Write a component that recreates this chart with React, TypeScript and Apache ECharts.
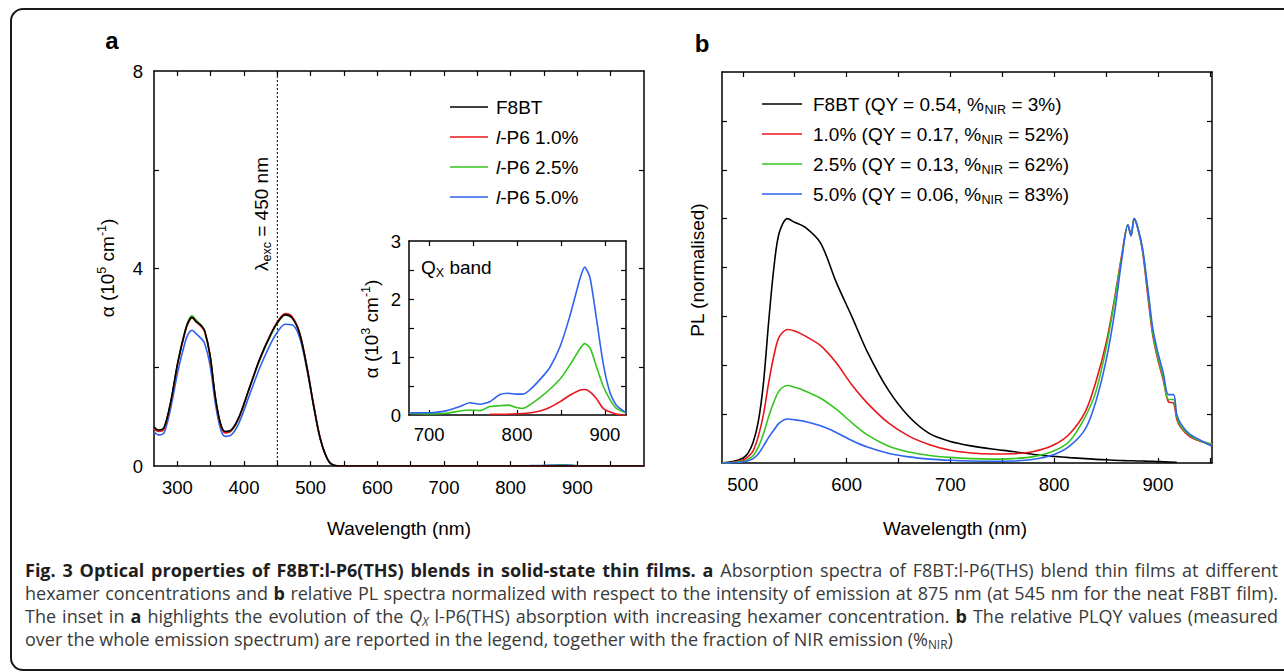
import React, { useEffect, useRef } from 'react';
import * as echarts from 'echarts';

// ---------- Panel a : absorption (alpha, 10^5 cm^-1) ----------
const absWl = [265, 272, 280, 290, 301, 312, 317, 322, 328, 336, 341, 349, 357, 365, 372, 380, 392, 408, 424, 440, 451, 462, 472, 483, 494, 505, 515, 526, 536, 545, 600, 650];
const absF8BT = [0.79, 0.73, 0.78, 1.30, 2.12, 2.75, 2.93, 3.01, 2.93, 2.84, 2.74, 2.25, 1.40, 0.85, 0.70, 0.72, 0.98, 1.58, 2.18, 2.66, 2.92, 3.06, 3.00, 2.70, 2.02, 1.18, 0.52, 0.12, 0.01, 0, 0, 0];
const absP6_10 = [0.76, 0.70, 0.75, 1.28, 2.10, 2.73, 2.92, 3.00, 2.92, 2.82, 2.72, 2.24, 1.38, 0.83, 0.67, 0.70, 0.96, 1.57, 2.18, 2.67, 2.94, 3.09, 3.03, 2.72, 2.04, 1.20, 0.53, 0.12, 0.01, 0, 0, 0];
const absP6_25 = [0.77, 0.71, 0.76, 1.29, 2.12, 2.76, 2.96, 3.04, 2.96, 2.85, 2.74, 2.24, 1.38, 0.83, 0.68, 0.70, 0.96, 1.56, 2.16, 2.64, 2.91, 3.06, 3.01, 2.71, 2.03, 1.19, 0.53, 0.12, 0.01, 0, 0, 0];
const absP6_50 = [0.70, 0.63, 0.67, 1.17, 1.93, 2.52, 2.69, 2.75, 2.68, 2.58, 2.48, 2.05, 1.27, 0.74, 0.60, 0.62, 0.86, 1.43, 2.00, 2.48, 2.73, 2.87, 2.86, 2.62, 1.98, 1.17, 0.52, 0.12, 0.01, 0, 0, 0];
const absEnd = 1000;

// ---------- Inset : Qx band (alpha, 10^3 cm^-1) ----------
const qxWl = [677, 701, 720, 735, 746, 758, 769, 780, 790, 799, 807, 815, 826, 837, 849, 860, 872, 877, 883, 890, 898, 906, 913, 924];
const qxP6_10 = [null, null, null, null, null, null, 0.01, 0.012, 0.015, 0.02, 0.025, 0.04, 0.07, 0.13, 0.23, 0.34, 0.43, 0.44, 0.40, 0.29, 0.115, 0.05, 0.015, 0.0];
const qxP6_25 = [0.03, 0.02, 0.03, 0.07, 0.087, 0.075, 0.145, 0.16, 0.17, 0.13, 0.115, 0.18, 0.30, 0.44, 0.62, 0.86, 1.15, 1.23, 1.16, 0.85, 0.50, 0.26, 0.115, 0.04];
const qxP6_50 = [0.04, 0.04, 0.075, 0.145, 0.21, 0.185, 0.23, 0.35, 0.375, 0.36, 0.36, 0.44, 0.61, 0.81, 1.18, 1.70, 2.37, 2.55, 2.37, 1.70, 0.89, 0.375, 0.17, 0.04];

// ---------- Panel b : PL (normalised) ----------
const plWl = [480, 490, 500, 505, 510, 515, 520, 525, 530, 535, 543, 550, 560, 575, 590, 605, 620, 640, 660, 680, 700, 720, 740, 760, 780, 800, 815, 830, 840, 850, 858, 865, 871, 874, 877, 880, 885, 890, 895, 900, 905, 910, 915, 918, 922, 930, 940, 952];
const plF8BT = [0, 0.006, 0.02, 0.04, 0.085, 0.17, 0.33, 0.58, 0.80, 0.94, 1.0, 0.985, 0.965, 0.90, 0.74, 0.60, 0.455, 0.30, 0.19, 0.12, 0.088, 0.07, 0.057, 0.047, 0.035, 0.027, 0.022, 0.018, 0.015, 0.013, 0.011, 0.010, 0.009, 0.009, 0.009, 0.008, 0.008, 0.007, 0.007, 0.006, 0.005, 0.004, 0.003, 0.003, null, null, null, null];
const plP6_10 = [0, 0.003, 0.012, 0.025, 0.05, 0.11, 0.20, 0.33, 0.44, 0.515, 0.546, 0.54, 0.52, 0.48, 0.41, 0.32, 0.245, 0.165, 0.11, 0.075, 0.052, 0.041, 0.037, 0.038, 0.047, 0.075, 0.12, 0.21, 0.33, 0.49, 0.67, 0.85, 0.975, 0.93, 1.0, 0.97, 0.87, 0.69, 0.52, 0.42, 0.34, 0.25, 0.245, 0.18, 0.145, 0.11, 0.09, 0.076];
const plP6_25 = [0, 0.002, 0.007, 0.015, 0.03, 0.065, 0.12, 0.19, 0.25, 0.295, 0.317, 0.31, 0.295, 0.265, 0.22, 0.165, 0.115, 0.07, 0.045, 0.031, 0.023, 0.018, 0.016, 0.018, 0.026, 0.05, 0.09, 0.19, 0.29, 0.47, 0.66, 0.84, 0.975, 0.93, 1.0, 0.97, 0.875, 0.71, 0.53, 0.43, 0.35, 0.26, 0.26, 0.19, 0.15, 0.115, 0.092, 0.078];
const plP6_50 = [0, 0.001, 0.004, 0.009, 0.018, 0.038, 0.07, 0.105, 0.135, 0.163, 0.18, 0.177, 0.17, 0.152, 0.125, 0.092, 0.065, 0.04, 0.025, 0.016, 0.011, 0.008, 0.007, 0.008, 0.015, 0.035, 0.07, 0.14, 0.25, 0.42, 0.61, 0.83, 0.975, 0.93, 1.0, 0.97, 0.88, 0.72, 0.55, 0.45, 0.37, 0.28, 0.28, 0.20, 0.16, 0.12, 0.095, 0.068];

// ---------- ticks / labels ----------
const aXTicks = [300, 350, 400, 450, 500, 550, 600, 650, 700, 750, 800, 850, 900, 950];
const aXLabels = [300, 400, 500, 600, 700, 800, 900];
const aYTicks = [2, 4, 6];
const aYLabels = [0, 4, 8];
const inXTicks = [700, 750, 800, 850, 900];
const inXLabels = [700, 800, 900];
const inYTicks = [0.5, 1, 1.5, 2, 2.5];
const inYLabels = [0, 1, 2, 3];
const bXTicks = [500, 550, 600, 650, 700, 750, 800, 850, 900, 950];
const bXLabels = [500, 600, 700, 800, 900];
const bYTicks = [0.2, 0.4, 0.6, 0.8, 1.0, 1.2, 1.4];
const excWl = 450;

const seriesNames = ['F8BT', 'l-P6 1.0%', 'l-P6 2.5%', 'l-P6 5.0%'];
const legendB = [
  ['F8BT (QY = 0.54, %', ' = 3%)'],
  ['1.0% (QY = 0.17, %', ' = 52%)'],
  ['2.5% (QY = 0.13, %', ' = 62%)'],
  ['5.0% (QY = 0.06, %', ' = 83%)'],
];

type Piece = [string, string];
const captionLines: Piece[][] = [
  [['b', 'Fig. 3 Optical properties of F8BT:l-P6(THS) blends in solid-state thin films. a'], ['n', ' Absorption spectra of F8BT:l-P6(THS) blend thin films at different']],
  [['n', 'hexamer concentrations and '], ['b', 'b'], ['n', ' relative PL spectra normalized with respect to the intensity of emission at 875 nm (at 545 nm for the neat F8BT film).']],
  [['n', 'The inset in '], ['b', 'a'], ['n', ' highlights the evolution of the '], ['i', 'Q'], ['is', 'X'], ['n', ' l-P6(THS) absorption with increasing hexamer concentration. '], ['b', 'b'], ['n', ' The relative PLQY values (measured']],
  [['n', 'over the whole emission spectrum) are reported in the legend, together with the fraction of NIR emission (%'], ['s', 'NIR'], ['n', ')']],
];

const COLORS = ['#000000', '#e8161b', '#36c51f', '#2d63f0'];
const LF = 'Liberation Sans';
const CF = 'Open Sans';

const pairs = (xs: number[], ys: (number | null)[], k = 1) =>
  xs.map((x, i) => [x, ys[i] == null ? null : (ys[i] as number) * k]);

const mainA = (uv: number[], qx: (number | null)[] | null) => {
  const out: any[] = pairs(absWl, uv);
  if (qx) qxWl.forEach((x, i) => { if (qx[i] != null) out.push([x, (qx[i] as number) / 100]); });
  out.push([absEnd, 0]);
  return out;
};

const mkAxis = (gridIndex: number, min: number, max: number, ticks: number[], labels: number[] | null, position: string, margin = 11) => ({
  type: 'value', gridIndex, min, max, position,
  axisLine: { show: true, onZero: false, lineStyle: { color: '#000', width: 1.5 } },
  axisTick: { show: true, inside: true, length: 5, customValues: ticks, lineStyle: { color: '#000', width: 1.2 } },
  axisLabel: labels
    ? { show: true, customValues: labels, margin, color: '#000', fontSize: 18.5, fontFamily: LF }
    : { show: false },
  splitLine: { show: false },
});

const supRich = {
  n: { fontFamily: LF, fontSize: 19, fill: '#000', lineHeight: 24 },
  sup: { fontFamily: LF, fontSize: 12.5, fill: '#000', lineHeight: 12, verticalAlign: 'top' },
  sub: { fontFamily: LF, fontSize: 12.5, fill: '#000', lineHeight: 12, verticalAlign: 'bottom' },
  it: { fontFamily: LF, fontSize: 19, fill: '#000', lineHeight: 24, fontStyle: 'italic' },
};

function captionGraphics(): any[] {
  const canvas = document.createElement('canvas');
  const ctx = canvas.getContext('2d') as CanvasRenderingContext2D;
  const fontOf = (s: string, size: number) => {
    const sz = s === 'is' || s === 's' ? size * 0.66 : size;
    const st = s === 'i' || s === 'is' ? 'italic ' : '';
    const wt = s === 'b' ? 'bold ' : '';
    return `${st}${wt}${sz}px "${CF}"`;
  };
  const meas = (s: string, t: string, size: number) => { ctx.font = fontOf(s, size); return ctx.measureText(t).width; };
  const x0 = 25, x1 = 1278;
  const ys = [570, 593, 616, 639];
  const lineWords = captionLines.map(line => {
    const words: Piece[][] = [[]];
    line.forEach(([s, t]) => {
      t.split(' ').forEach((part, i) => {
        if (i > 0) words.push([]);
        if (part !== '') words[words.length - 1].push([s, part]);
      });
    });
    return words.filter(w => w.length > 0);
  });
  const base = 20;
  let ratio = Infinity;
  lineWords.slice(0, 3).forEach(ws => {
    const nat = ws.reduce((a, w) => a + w.reduce((b, [s, t]) => b + meas(s, t, base), 0), 0) + (ws.length - 1) * meas('n', ' ', base);
    ratio = Math.min(ratio, (x1 - x0) / nat);
  });
  const size = Math.min(18, base * ratio * 0.995);
  const rich = {
    n: { fontFamily: CF, fontSize: size, fill: '#3a3a3a', lineHeight: 22 },
    b: { fontFamily: CF, fontSize: size, fontWeight: 'bold', fill: '#1e1e1e', lineHeight: 22 },
    i: { fontFamily: CF, fontSize: size, fontStyle: 'italic', fill: '#3a3a3a', lineHeight: 22 },
    is: { fontFamily: CF, fontSize: size * 0.66, fontStyle: 'italic', fill: '#3a3a3a', lineHeight: 12, verticalAlign: 'bottom' },
    s: { fontFamily: CF, fontSize: size * 0.66, fill: '#3a3a3a', lineHeight: 12, verticalAlign: 'bottom' },
  };
  const out: any[] = [];
  lineWords.forEach((ws, li) => {
    const widths = ws.map(w => w.reduce((a, [s, t]) => a + meas(s, t, size), 0));
    const total = widths.reduce((a, b) => a + b, 0);
    const justify = li < lineWords.length - 1;
    const gap = justify ? (x1 - x0 - total) / (ws.length - 1) : meas('n', ' ', size);
    let x = x0;
    ws.forEach((w, wi) => {
      out.push({
        type: 'text', x, y: ys[li], silent: true,
        style: { text: w.map(([s, t]) => `{${s}|${t}}`).join(''), rich, align: 'left', verticalAlign: 'middle' },
      });
      x += widths[wi] + gap;
    });
  });
  return out;
}

export default function App() {
  const ref = useRef<HTMLDivElement>(null);
  useEffect(() => {
    if (!ref.current) return;
    const chart = echarts.init(ref.current, null, { renderer: 'svg', width: 1284, height: 672 });
    const line = (name: string, xi: number, data: any[], color: string, smooth: number = 0) => ({
      name, type: 'line', xAxisIndex: xi, yAxisIndex: xi, data, showSymbol: false, symbol: 'none',
      smooth,
      lineStyle: { color, width: 1.6 }, itemStyle: { color }, silent: true, clip: true,
    });

    const legA = seriesNames.flatMap((n, i) => {
      const y = 107 + i * 30;
      const txt = n.startsWith('l-') ? `{it|l}{n|${n.slice(1)}}` : `{n|${n}}`;
      return [
        { type: 'line', shape: { x1: 450, y1: y, x2: 488, y2: y }, style: { stroke: COLORS[i], lineWidth: 1.5 } },
        { type: 'text', x: 496, y, style: { text: txt, rich: supRich, align: 'left', verticalAlign: 'middle' } },
      ];
    });
    const legB = legendB.flatMap(([a, b], i) => {
      const y = 104 + i * 30;
      return [
        { type: 'line', shape: { x1: 762, y1: y, x2: 802, y2: y }, style: { stroke: COLORS[i], lineWidth: 1.5 } },
        { type: 'text', x: 813, y, style: { text: `{n|${a}}{sub|NIR}{n|${b}}`, rich: supRich, align: 'left', verticalAlign: 'middle' } },
      ];
    });

    const txt = (x: number, y: number, text: string, rotation = 0, align = 'center') => ({
      type: 'text', x, y, rotation, silent: true,
      style: { text, rich: supRich, align, verticalAlign: 'middle' },
    });

    const option: any = {
      animation: false,
      backgroundColor: '#ffffff',
      grid: [
        { left: 154, top: 71, width: 490, height: 395 },
        { left: 409, top: 241, width: 217, height: 174 },
        { left: 722, top: 72, width: 490, height: 391 },
      ],
      xAxis: [
        mkAxis(0, absWl[0], absEnd, aXTicks, aXLabels, 'bottom', 12),
        mkAxis(0, absWl[0], absEnd, aXTicks, null, 'top'),
        mkAxis(1, qxWl[0], qxWl[qxWl.length - 1], inXTicks, inXLabels, 'bottom', 10),
        mkAxis(1, qxWl[0], qxWl[qxWl.length - 1], inXTicks, null, 'top'),
        mkAxis(2, plWl[0], plWl[plWl.length - 1], bXTicks, bXLabels, 'bottom', 12),
        mkAxis(2, plWl[0], plWl[plWl.length - 1], bXTicks, null, 'top'),
      ],
      yAxis: [
        mkAxis(0, 0, 8, aYTicks, aYLabels, 'left', 11),
        mkAxis(0, 0, 8, aYTicks, null, 'right'),
        mkAxis(1, 0, 3, inYTicks, inYLabels, 'left', 8),
        mkAxis(1, 0, 3, inYTicks, null, 'right'),
        mkAxis(2, 0, 1.6, bYTicks, null, 'left'),
        mkAxis(2, 0, 1.6, bYTicks, null, 'right'),
      ],
      series: [
        {
          name: 'exc', type: 'line', xAxisIndex: 0, yAxisIndex: 0, data: [[excWl, 0], [excWl, 8]],
          showSymbol: false, symbol: 'none', lineStyle: { color: '#000', width: 1, type: [2, 2] }, silent: true,
        },
        line(seriesNames[3], 0, mainA(absP6_50, qxP6_50), COLORS[3], 0.35),
        line(seriesNames[2], 0, mainA(absP6_25, qxP6_25), COLORS[2], 0.35),
        line(seriesNames[1], 0, mainA(absP6_10, qxP6_10), COLORS[1], 0.35),
        line(seriesNames[0], 0, mainA(absF8BT, null), COLORS[0], 0.35),
        line('qx1', 2, pairs(qxWl, qxP6_10), COLORS[1], 0.2),
        line('qx2', 2, pairs(qxWl, qxP6_25), COLORS[2], 0.2),
        line('qx5', 2, pairs(qxWl, qxP6_50), COLORS[3], 0.2),
        line('pl0', 4, pairs(plWl, plF8BT), COLORS[0], 0.3),
        line('pl1', 4, pairs(plWl, plP6_10), COLORS[1], 0.3),
        line('pl2', 4, pairs(plWl, plP6_25), COLORS[2], 0.3),
        line('pl5', 4, pairs(plWl, plP6_50), COLORS[3], 0.3),
      ],
      graphic: [
        { type: 'rect', silent: true, shape: { x: 11, y: 9, width: 1300, height: 661, r: 12 }, style: { fill: 'none', stroke: '#1a1a1a', lineWidth: 2 } },
        { type: 'text', x: 112, y: 40, style: { text: 'a', font: `bold 24px "${LF}"`, fill: '#000', align: 'center', verticalAlign: 'middle' } },
        { type: 'text', x: 702, y: 43, style: { text: 'b', font: `bold 24px "${LF}"`, fill: '#000', align: 'center', verticalAlign: 'middle' } },
        txt(107, 268, '{n|α (10}{sup|5}{n| cm}{sup|-1}{n|)}', Math.PI / 2),
        txt(261, 214, '{n|λ}{sub|exc}{n| = 450 nm}', Math.PI / 2),
        txt(371, 329, '{n|α (10}{sup|3}{n| cm}{sup|-1}{n|)}', Math.PI / 2),
        txt(421, 267, '{n|Q}{sub|X}{n| band}', 0, 'left'),
        txt(399, 528, '{n|Wavelength (nm)}'),
        txt(955, 528, '{n|Wavelength (nm)}'),
        txt(697, 270, '{n|PL (normalised)}', Math.PI / 2),
        ...legA,
        ...legB,
        ...captionGraphics(),
      ],
    };
    chart.setOption(option);
    return () => chart.dispose();
  }, []);
  return <div ref={ref} style={{ position: 'absolute', left: 0, top: 0, width: 1284, height: 672, background: '#fff' }} />;
}
